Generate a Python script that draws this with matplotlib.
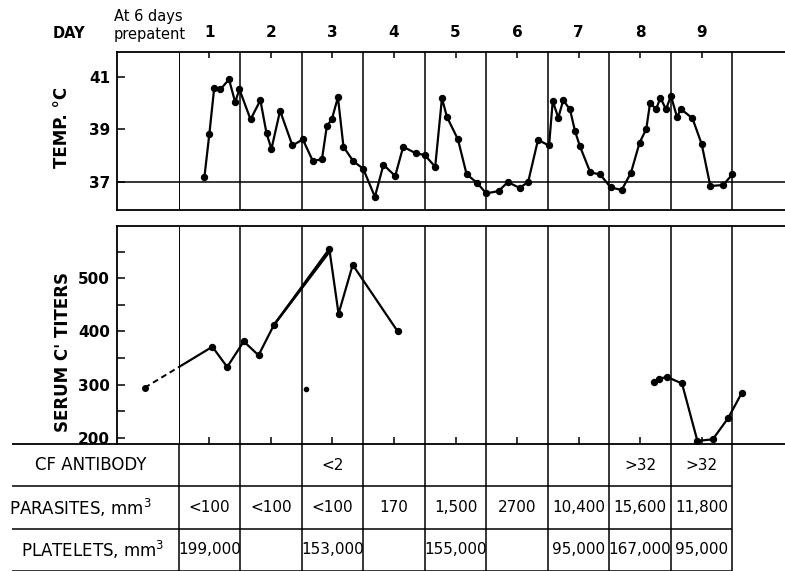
import matplotlib
matplotlib.use("Agg")
import matplotlib.pyplot as plt
from matplotlib.patches import Rectangle
import numpy as np

# ---------------- data ----------------
day_numbers = [1, 2, 3, 4, 5, 6, 7, 8, 9]
day_labels = ["1", "2", "3", "4", "5", "6", "7", "8", "9"]

temp_day = [0.92, 1.00, 1.08, 1.18, 1.32, 1.42, 1.49, 1.67, 1.83, 1.93, 2.01, 2.15,
            2.35, 2.52, 2.68, 2.83, 2.91, 2.99, 3.09, 3.18, 3.34, 3.50, 3.69, 3.83,
            4.02, 4.15, 4.36, 4.50, 4.67, 4.78, 4.86, 5.04, 5.18, 5.35, 5.50, 5.70,
            5.85, 6.04, 6.18, 6.34, 6.52, 6.58, 6.67, 6.75, 6.86, 6.94, 7.02, 7.19,
            7.35, 7.52, 7.70, 7.85, 7.99, 8.10, 8.16, 8.26, 8.33, 8.42, 8.50, 8.60,
            8.66, 8.85, 9.00, 9.14, 9.35, 9.50]
temp_c = [37.18, 38.81, 40.58, 40.52, 40.90, 40.04, 40.52, 39.38, 40.11, 38.85, 38.26, 39.71,
          38.39, 38.62, 37.81, 37.86, 39.13, 39.38, 40.22, 38.34, 37.79, 37.51, 36.44, 37.66,
          37.23, 38.34, 38.09, 38.03, 37.58, 40.19, 39.48, 38.62, 37.30, 36.97, 36.57, 36.66,
          37.00, 36.78, 37.00, 38.60, 38.39, 40.08, 39.44, 40.11, 39.76, 38.95, 38.37, 37.37,
          37.29, 36.80, 36.70, 37.35, 38.49, 39.02, 39.99, 39.78, 40.20, 39.76, 40.28, 39.46,
          39.78, 39.42, 38.44, 36.85, 36.89, 37.30]
temp_ticks = [37, 39, 41]
temp_ref = 37

serum_day_a = [-0.05, 1.05, 1.29, 1.56, 1.80, 2.05, 2.95, 3.10, 3.33, 4.06]
serum_val_a = [294, 371, 333, 381, 355, 412, 555, 433, 525, 400]
serum_double_day = [2.05, 2.94]
serum_double_val = [412, 548]
serum_lone_day = [2.57]
serum_lone_val = [292]
serum_day_b = [8.22, 8.30, 8.44, 8.68, 8.93, 9.18, 9.43, 9.65]
serum_val_b = [304, 311, 314, 302, 194, 197, 237, 284]
serum_ticks = [200, 300, 400, 500]
serum_minor = [250, 350, 450, 550]

cf_days = [3, 8, 9]
cf_text = ["<2", ">32", ">32"]
parasite_days = [1, 2, 3, 4, 5, 6, 7, 8, 9]
parasite_text = ["<100", "<100", "<100", "170", "1,500", "2700", "10,400", "15,600", "11,800"]
platelet_days = [1, 3, 5, 7, 8, 9]
platelet_text = ["199,000", "153,000", "155,000", "95,000", "167,000", "95,000"]
row_labels = ["CF ANTIBODY", "PARASITES, mm$^3$", "PLATELETS, mm$^3$"]

# ---------------- layout ----------------
W, H = 785, 571
X_DAY1, PPD = 209.3, 61.55


def px_to_day(px):
    return 1 + (px - X_DAY1) / PPD


LEFT = 117
boundaries = np.arange(0.5, 10, 1.0)

fig = plt.figure(figsize=(W / 100, H / 100), dpi=100)
plt.rcParams["font.family"] = ["DejaVu Sans"]

LW_AX = 1.3
LW_GRID = 1.1

# ---- top panel (temperature) ----
t_top, t_bot = 51.5, 210
ax_t = fig.add_axes([LEFT / W, 1 - t_bot / H, 1 - LEFT / W, (t_bot - t_top) / H])
ax_t.set_xlim(px_to_day(LEFT), px_to_day(W))
ax_t.set_ylim(35.94, 41.96)
for s in ["left", "top", "bottom"]:
    ax_t.spines[s].set_linewidth(LW_AX)
ax_t.spines["right"].set_visible(False)
for b in boundaries:
    ax_t.axvline(b, color="black", lw=0.7 if b < 1 else LW_GRID)
ax_t.axhline(temp_ref, color="black", lw=LW_GRID)
ax_t.plot(temp_day, temp_c, "-o", color="black", lw=1.6, ms=4.3)
ax_t.set_yticks(temp_ticks)
ax_t.set_yticklabels([str(v) for v in temp_ticks], fontweight="bold")
ax_t.tick_params(axis="y", direction="in", length=6, width=1.1, pad=5, labelsize=11)
ax_t.xaxis.tick_top()
ax_t.set_xticks(day_numbers)
ax_t.set_xticklabels(day_labels, fontweight="bold")
ax_t.tick_params(axis="x", direction="in", length=4, width=1.1, pad=8, labelsize=11)
ax_t.set_ylabel("TEMP. \u00b0C", fontsize=12, fontweight="bold", va="center")
ax_t.yaxis.set_label_coords((61.7 - LEFT) / (W - LEFT), 0.52)

fig.text(69 / W, 1 - 34 / H, "DAY", ha="center", va="center", fontsize=10.5, fontweight="bold")
fig.text(148 / W, 1 - 16 / H, "At 6 days", ha="center", va="center", fontsize=10.5)
fig.text(150 / W, 1 - 35 / H, "prepatent", ha="center", va="center", fontsize=10.5)

# ---- middle panel (serum C' titers) ----
m_top, m_bot = 226, 444
ax_m = fig.add_axes([LEFT / W, 1 - m_bot / H, 1 - LEFT / W, (m_bot - m_top) / H])
ax_m.set_xlim(px_to_day(LEFT), px_to_day(W))
ax_m.set_ylim(188.2, 598)
for s in ["left", "top"]:
    ax_m.spines[s].set_linewidth(LW_AX)
ax_m.spines["right"].set_visible(False)
ax_m.spines["bottom"].set_visible(False)
for b in boundaries:
    ax_m.axvline(b, color="black", lw=0.7 if b < 1 else LW_GRID)

clip_left = Rectangle((px_to_day(LEFT), 188.2), 0.5 - px_to_day(LEFT), 410,
                      transform=ax_m.transData)
clip_right = Rectangle((0.5, 188.2), 10, 410, transform=ax_m.transData)
dashed, = ax_m.plot(serum_day_a[:2], serum_val_a[:2], "--", color="black", lw=1.4,
                    dashes=(3, 2))
dashed.set_clip_path(clip_left)
solid_start, = ax_m.plot(serum_day_a[:2], serum_val_a[:2], "-", color="black", lw=1.6)
solid_start.set_clip_path(clip_right)
ax_m.plot(serum_day_a[:1], serum_val_a[:1], "o", color="black", ms=4)
ax_m.plot(serum_day_a[1:], serum_val_a[1:], "-o", color="black", lw=1.6, ms=4.3)
ax_m.plot(serum_double_day, serum_double_val, "-", color="black", lw=1.8)
ax_m.plot(serum_lone_day, serum_lone_val, "o", color="black", ms=3)
ax_m.plot(serum_day_b, serum_val_b, "-o", color="black", lw=1.6, ms=4.3)

ax_m.set_yticks(serum_ticks)
ax_m.set_yticks(serum_minor, minor=True)
ax_m.set_yticklabels([str(v) for v in serum_ticks], fontweight="bold")
ax_m.tick_params(axis="y", which="both", direction="in", length=6, width=1.1, pad=5,
                 labelsize=11)
ax_m.set_xticks(day_numbers)
ax_m.set_xticklabels([])
ax_m.tick_params(axis="x", direction="in", length=5, width=1.1)
ax_m.set_ylabel("SERUM C' TITERS", fontsize=12, fontweight="bold", va="center")
ax_m.yaxis.set_label_coords((63.5 - LEFT) / (W - LEFT), (m_bot - 352) / (m_bot - m_top))

# ---- table ----
ax_tab = fig.add_axes([0, 0, 1, (H - m_bot) / H])
ax_tab.set_xlim(px_to_day(0), px_to_day(W))
ax_tab.set_ylim(0, 3)
ax_tab.axis("off")
ax_tab.hlines(3, px_to_day(12), px_to_day(W), color="black", lw=LW_AX, clip_on=False)
ax_tab.hlines([2, 1, 0], px_to_day(12), boundaries[-1], color="black", lw=LW_GRID,
              clip_on=False)
ax_tab.vlines(boundaries, 0, 3, color="black", lw=LW_GRID)

label_x = [91 / W, 80 / W, 93 / W]
for i, (lab, lx) in enumerate(zip(row_labels, label_x)):
    ax_tab.text(lx, 2.5 - i, lab, transform=ax_tab.get_yaxis_transform(), ha="center",
                va="center", fontsize=12)

for d, t in zip(cf_days, cf_text):
    ax_tab.text(d, 2.5, t, ha="center", va="center", fontsize=11)
for d, t in zip(parasite_days, parasite_text):
    ax_tab.text(d, 1.5, t, ha="center", va="center", fontsize=11)
for d, t in zip(platelet_days, platelet_text):
    ax_tab.text(d, 0.5, t, ha="center", va="center", fontsize=11)

fig.savefig("out.png", dpi=100)
